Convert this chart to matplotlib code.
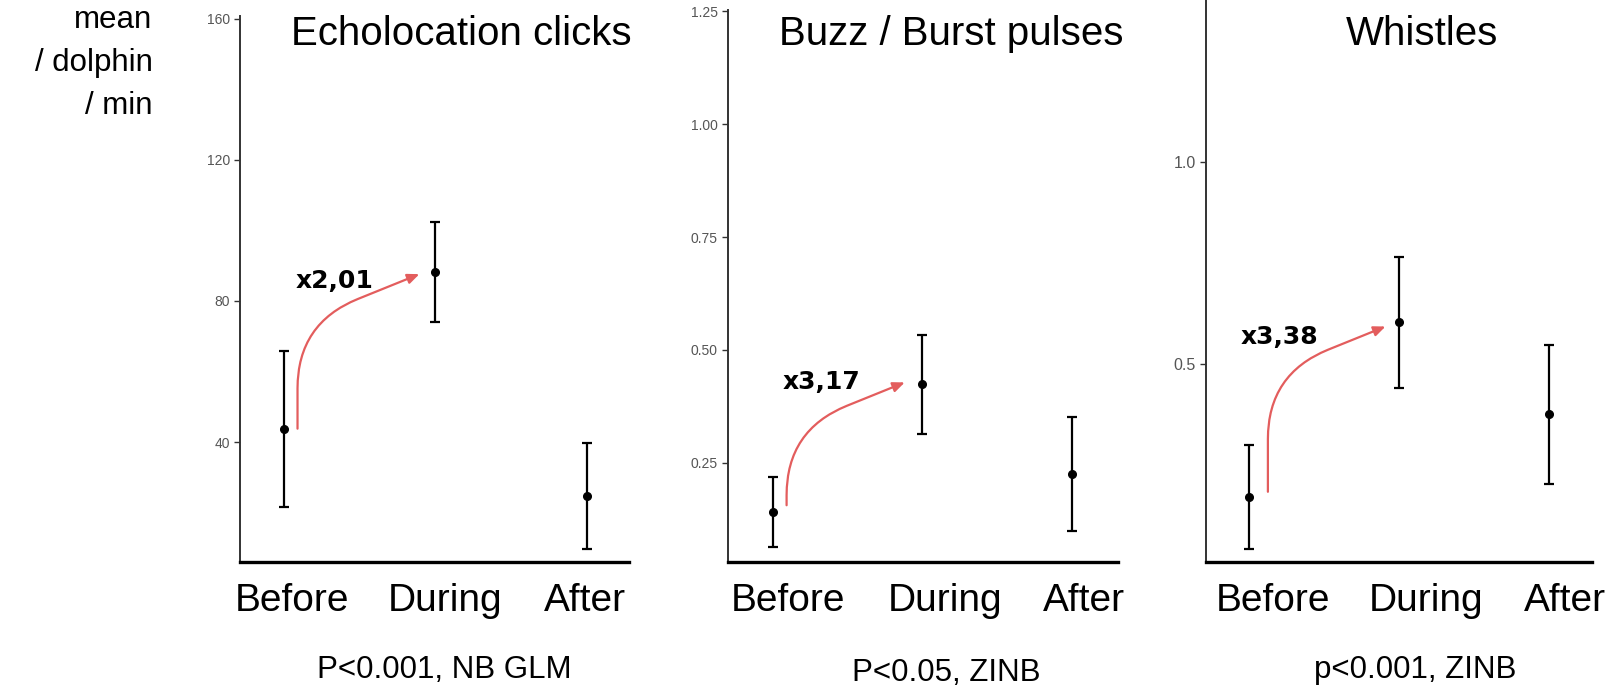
import numpy as np
import matplotlib
matplotlib.use('Agg')
from matplotlib import pyplot as plt

plt.rcParams['font.family'] = ['Liberation Sans', 'DejaVu Sans']

# data
periods = ['Before', 'During', 'After']

clicks_mean = [43.8, 88.2, 24.8]
clicks_low = [21.6, 73.9, 9.6]
clicks_high = [65.7, 102.5, 39.7]

buzz_mean = [0.140, 0.424, 0.225]
buzz_low = [0.063, 0.313, 0.100]
buzz_high = [0.219, 0.533, 0.351]

whistle_mean = [0.171, 0.602, 0.375]
whistle_low = [0.041, 0.439, 0.202]
whistle_high = [0.298, 0.763, 0.546]

titles = ['Echolocation clicks', 'Buzz / Burst pulses', 'Whistles']
stats = ['P<0.001, NB GLM', 'P<0.05, ZINB', 'p<0.001, ZINB']
ratios = ['x2,01', 'x3,17', 'x3,38']

yticks = [[40, 80, 120, 160], [0.25, 0.50, 0.75, 1.00, 1.25], [0.5, 1.0]]
ytick_labels = [['40', '80', '120', '160'],
                ['0.25', '0.50', '0.75', '1.00', '1.25'],
                ['0.5', '1.0']]

# arrow tail / head and label position (data coords)
arrow_tail = [(1.09, 43.8), (1.091, 0.156), (1.126, 0.183)]
arrow_head = [(1.895, 87.6), (1.882, 0.428), (1.91, 0.592)]
ratio_pos = [(1.333, 85.7), (1.324, 0.430), (1.20, 0.567)]

means = [clicks_mean, buzz_mean, whistle_mean]
lows = [clicks_low, buzz_low, whistle_low]
highs = [clicks_high, buzz_high, whistle_high]

# layout in figure pixels
W, H = 1616, 688
rects = [(240, 629, 15.5), (727.6, 1118, 10.3), (1205.8, 1592, 0)]
axis_y = 561.7
ylims = [(6.1, 160.9), (0.031, 1.252), (0.01, 1.40)]
xlims = [(0.71, 3.28), (0.696, 3.31), (0.712, 3.287)]
# category labels sit a bit off the points in the original
label_x = [[1.054, 2.068, 2.986], [1.10, 2.15, 3.08], [1.16, 2.18, 3.11]]
title_x = [461, 951, 1422]
stat_xy = [(444, 670), (946, 673), (1415, 670)]
ticksize = [10, 10, 11.5]

fig = plt.figure(figsize=(W / 100, H / 100), dpi=100)

arrow_col = '#e35d5d'
x = np.arange(1, 4)

for i in range(3):
    l, r, t = rects[i]
    ax = fig.add_axes([l / W, 1 - axis_y / H, (r - l) / W, (axis_y - t) / H])
    m = np.array(means[i])
    err = [m - np.array(lows[i]), np.array(highs[i]) - m]
    ax.errorbar(x, m, yerr=err, fmt='o', color='black', ms=5.5,
                elinewidth=1.6, capsize=3.5, capthick=1.6)
    ax.set_xlim(*xlims[i])
    ax.set_ylim(*ylims[i])
    ax.set_yticks(yticks[i])
    ax.set_yticklabels(ytick_labels[i])
    ax.set_xticks(label_x[i])
    ax.set_xticklabels(periods, fontsize=28)
    ax.tick_params(axis='x', length=0, pad=15)
    ax.tick_params(axis='y', length=4, width=1, color='#333333',
                   labelsize=ticksize[i], labelcolor='#555555', pad=3)
    for s in ['top', 'right']:
        ax.spines[s].set_visible(False)
    ax.spines['left'].set_color('#333333')
    ax.spines['left'].set_linewidth(1.4)
    ax.spines['bottom'].set_color('black')
    ax.spines['bottom'].set_linewidth(2.4)

    ax.annotate('', xy=arrow_head[i], xytext=arrow_tail[i],
                arrowprops=dict(arrowstyle='-|>,head_length=0.7,head_width=0.3',
                                color=arrow_col, lw=1.6, shrinkA=0, shrinkB=0,
                                connectionstyle='angle,angleA=90,angleB=22,rad=65'))
    ax.text(ratio_pos[i][0], ratio_pos[i][1], ratios[i], ha='center', va='center',
            fontsize=18, fontweight='bold', family='DejaVu Sans')

    fig.text(title_x[i] / W, 1 - 34 / H, titles[i], ha='center', va='center', fontsize=29)
    fig.text(stat_xy[i][0] / W, 1 - stat_xy[i][1] / H, stats[i], ha='center', va='center',
             fontsize=22.5)

fig.text(152.5 / W, 1 - 63 / H, 'mean\n/ dolphin\n/ min', ha='right', va='center',
         multialignment='right', fontsize=22.5, linespacing=1.55)

fig.savefig('out.png', dpi=100)
